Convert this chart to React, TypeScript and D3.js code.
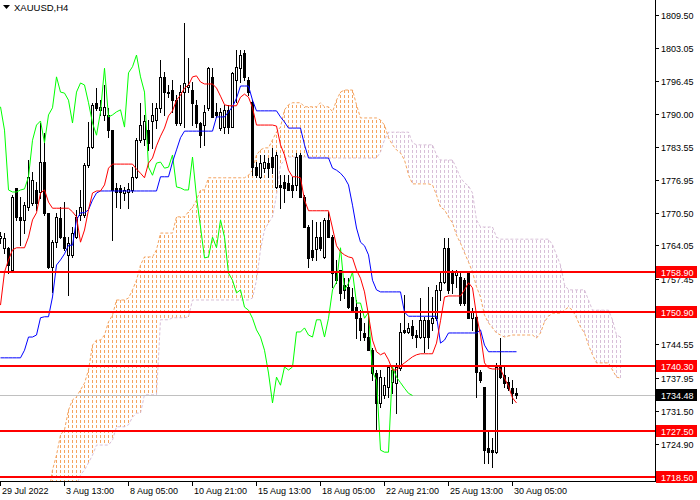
import React from 'react';
import * as d3 from 'd3';

const opens = [
1765.5,1763.6,1763.6,1759.2,1775.4,1769.7,1769.1,1771.6,1772.4,1775.0,
1774.6,1780.5,1770.5,1759.8,1764.7,1769.5,1765.7,1762.2,1762.2,1765.7,
1770.1,1770.1,1779.9,1783.5,1792.2,1790.8,1789.8,1789.8,1786.8,1775.4,
1775.4,1774.4,1774.6,1775.0,1777.6,1784.8,1785.0,1786.8,1788.6,1788.8,
1791.2,1797.3,1794.3,1794.7,1792.7,1788.2,1794.3,1795.3,1794.7,1791.8,
1788.2,1787.8,1791.2,1797.3,1790.4,1787.2,1787.4,1790.8,1787.4,1796.7,
1799.0,1802.0,1796.7,1792.3,1779.5,1777.6,1779.3,1780.3,1781.5,1775.6,
1776.0,1776.6,1776.4,1776.0,1776.0,1781.9,1773.6,1767.7,1763.2,1763.4,
1765.7,1761.8,1769.1,1765.7,1758.8,1759.2,1756.3,1755.9,1753.9,1751.9,
1749.7,1746.8,1746.0,1743.4,1738.9,1733.0,1734.6,1736.1,1737.1,1736.9,
1739.9,1747.4,1747.0,1748.2,1746.4,1746.0,1746.0,1749.4,1748.8,1749.7,
1755.3,1756.8,1763.6,1758.8,1758.2,1757.8,1757.2,1758.6,1749.7,1749.9,
1739.1,1736.1,1724.1,1723.7,1723.3,1740.1,1738.5,1737.1,1735.9,1734.9];

const highs = [
1766.7,1766.5,1763.8,1774.0,1775.4,1773.6,1772.6,1780.9,1778.5,1776.6,
1788.2,1786.2,1770.5,1765.1,1770.5,1771.6,1772.6,1765.7,1767.7,1771.0,
1775.0,1780.3,1788.4,1792.2,1795.1,1792.7,1795.7,1791.2,1786.8,1776.4,
1776.0,1775.6,1776.4,1779.5,1785.3,1792.2,1789.8,1788.8,1792.2,1792.2,
1800.6,1798.3,1795.7,1796.7,1793.7,1795.7,1807.9,1801.0,1796.3,1792.7,
1788.4,1791.8,1799.3,1799.0,1792.2,1791.2,1791.8,1791.8,1798.3,1802.6,
1802.6,1802.6,1797.3,1792.7,1780.5,1781.9,1781.9,1781.3,1783.3,1782.5,
1777.9,1777.9,1777.9,1777.6,1782.3,1782.3,1774.0,1768.1,1769.1,1768.7,
1768.7,1769.5,1770.7,1766.1,1761.2,1759.2,1757.6,1757.6,1755.7,1753.3,
1751.3,1748.8,1750.3,1743.8,1739.5,1739.5,1738.1,1740.5,1740.1,1740.9,
1748.8,1754.3,1748.8,1749.4,1747.4,1753.7,1749.9,1755.9,1753.9,1756.3,
1758.6,1765.5,1765.5,1759.2,1759.2,1758.8,1757.6,1758.8,1751.7,1750.3,
1739.5,1736.1,1727.7,1726.1,1740.9,1745.8,1740.1,1738.1,1737.5,1735.9];

const lows = [
1764.5,1762.6,1758.6,1758.8,1769.1,1764.2,1766.5,1771.0,1772.0,1771.0,
1773.4,1770.1,1759.6,1754.9,1763.8,1765.5,1763.2,1754.3,1761.8,1765.5,
1769.1,1769.7,1779.5,1783.3,1790.8,1789.8,1788.8,1785.4,1765.1,1771.6,
1771.4,1773.0,1771.4,1774.6,1777.4,1784.5,1783.9,1782.9,1783.3,1787.2,
1790.4,1789.8,1793.3,1790.4,1787.8,1787.8,1787.4,1794.3,1787.8,1787.4,
1783.5,1783.9,1790.8,1789.4,1789.4,1786.8,1786.2,1786.2,1787.4,1792.3,
1796.3,1796.7,1793.7,1777.9,1777.6,1777.4,1778.5,1777.6,1778.3,1775.4,
1771.4,1772.6,1775.0,1773.6,1775.0,1773.6,1767.7,1759.8,1761.2,1761.2,
1763.2,1761.6,1765.7,1755.9,1756.6,1753.3,1753.7,1751.7,1750.9,1745.8,
1745.4,1745.4,1743.4,1737.5,1727.7,1732.2,1734.0,1734.2,1734.9,1731.0,
1739.5,1746.8,1746.8,1745.8,1744.0,1745.8,1743.0,1743.8,1747.4,1749.4,
1753.3,1756.6,1754.7,1754.7,1755.9,1752.3,1752.3,1749.7,1747.4,1734.2,
1737.1,1721.1,1721.1,1720.4,1723.1,1737.9,1736.1,1735.5,1733.0,1734.0];

const closes = [
1765.9,1765.5,1760.2,1773.6,1769.7,1769.1,1772.0,1777.6,1777.0,1772.4,
1780.5,1770.5,1759.8,1764.7,1769.7,1765.7,1763.6,1764.5,1766.5,1769.7,
1771.6,1779.9,1783.5,1791.8,1791.2,1791.4,1791.4,1786.8,1775.0,1774.6,
1774.6,1775.0,1775.2,1777.6,1784.8,1787.8,1788.6,1784.3,1789.8,1791.2,
1797.3,1794.3,1794.1,1792.7,1788.2,1794.3,1796.1,1795.7,1792.2,1788.2,
1785.8,1790.4,1799.0,1789.4,1789.8,1790.4,1790.8,1787.4,1798.1,1799.3,
1801.6,1797.3,1794.3,1779.5,1777.9,1780.3,1780.5,1779.3,1779.5,1781.9,
1775.6,1775.4,1775.0,1775.0,1781.5,1773.6,1767.7,1761.6,1761.8,1765.7,
1763.6,1769.1,1765.7,1758.6,1757.2,1754.7,1755.3,1751.9,1751.3,1749.7,
1747.4,1746.0,1743.4,1738.9,1733.0,1738.1,1736.5,1740.1,1739.5,1740.1,
1747.0,1747.0,1747.8,1746.4,1746.0,1749.4,1749.4,1746.0,1749.7,1755.3,
1756.8,1763.6,1755.3,1756.6,1758.8,1752.7,1752.7,1749.7,1750.9,1739.1,
1737.5,1723.7,1723.3,1723.3,1740.1,1738.1,1737.0,1735.9,1734.9,1734.48];

const tenkan = [
1752.3,1758.8,1761.2,1763.2,1763.6,1763.6,1763.6,1765.7,1769.1,1770.5,
1774.4,1775.0,1772.6,1771.4,1771.4,1771.4,1771.4,1771.4,1770.7,1769.7,
1764.7,1767.1,1771.1,1774.4,1774.8,1774.8,1776.0,1779.3,1780.1,1780.1,
1780.1,1780.1,1780.1,1780.1,1779.1,1778.3,1777.4,1780.3,1781.3,1783.7,
1785.6,1787.2,1789.6,1790.6,1792.7,1793.7,1795.1,1795.7,1797.3,1797.5,
1796.3,1795.9,1795.9,1795.9,1795.1,1793.5,1791.8,1791.6,1791.6,1791.6,
1793.3,1793.9,1793.3,1791.2,1787.8,1787.8,1787.8,1787.8,1787.8,1787.6,
1783.9,1781.9,1778.9,1777.6,1777.6,1777.4,1773.0,1770.9,1770.9,1770.9,
1770.9,1770.9,1770.9,1767.5,1764.0,1762.8,1762.2,1761.8,1761.6,1759.2,
1757.6,1754.9,1750.3,1745.4,1743.1,1742.5,1742.9,1741.5,1739.5,1739.5,
1740.3,1740.9,1741.5,1742.1,1742.5,1742.7,1742.7,1742.7,1742.7,1744.8,
1749.2,1753.9,1754.1,1754.1,1754.1,1754.1,1755.3,1756.7,1755.7,1750.3,
1746.4,1740.9,1739.9,1739.7,1739.7,1739.7,1737.9,1736.3,1734.0,1733.0];

const kijun = [
1741.9,1741.9,1741.9,1741.9,1741.9,1741.9,1743.4,1746.0,1746.0,1746.4,
1749.8,1750.0,1750.0,1753.9,1760.2,1761.2,1762.4,1764.1,1764.1,1769.1,
1770.5,1770.5,1771.1,1773.0,1774.4,1774.8,1774.8,1774.8,1774.8,1774.8,
1774.8,1774.8,1774.8,1774.8,1774.8,1774.8,1774.8,1774.8,1774.8,1774.8,
1777.6,1777.6,1777.6,1780.5,1782.9,1785.3,1786.6,1786.6,1786.6,1786.6,
1786.6,1786.6,1786.6,1786.6,1789.4,1789.4,1789.4,1790.4,1791.4,1793.1,
1795.5,1795.5,1795.5,1792.7,1790.6,1790.6,1790.6,1790.6,1790.6,1790.6,
1789.4,1788.4,1787.2,1787.2,1787.2,1787.2,1783.9,1781.3,1781.3,1781.3,
1781.3,1781.3,1781.3,1779.3,1778.9,1778.3,1777.4,1776.0,1772.0,1767.5,
1764.7,1764.0,1762.2,1757.2,1755.3,1754.9,1754.9,1754.9,1754.9,1754.9,
1754.9,1750.9,1750.1,1750.1,1750.1,1750.1,1750.1,1750.1,1750.1,1750.1,
1744.8,1745.4,1746.8,1746.8,1746.8,1746.8,1746.8,1746.8,1746.8,1746.8,
1747.4,1744.4,1743.1,1743.1,1743.1,1743.1,1743.1,1743.1,1743.1,1743.1];

const senkouA = [
1715.0,1715.0,1715.0,1715.0,1715.0,1715.0,1715.0,1715.0,1715.0,1715.0,
1715.0,1715.0,1715.0,1719.8,1722.7,1726.7,1727.7,1731.6,1733.6,1734.2,
1735.6,1736.9,1739.5,1744.4,1745.4,1745.4,1746.4,1749.0,1750.3,1753.3,
1753.3,1753.3,1753.7,1755.3,1757.2,1760.2,1761.8,1761.8,1761.8,1763.2,
1766.5,1766.5,1766.5,1766.5,1769.7,1769.7,1769.7,1770.7,1771.6,1773.0,
1775.0,1775.0,1777.4,1777.4,1777.4,1777.4,1777.4,1777.4,1777.4,1777.4,
1777.4,1777.4,1777.9,1778.9,1781.9,1782.9,1783.3,1783.3,1784.9,1786.4,
1787.4,1790.8,1791.8,1792.2,1792.2,1792.2,1791.4,1791.4,1791.4,1791.4,
1792.2,1791.4,1791.4,1790.4,1792.7,1794.3,1794.7,1794.7,1794.7,1791.8,
1789.2,1789.2,1789.2,1789.2,1789.2,1788.8,1787.8,1785.3,1783.9,1782.9,
1782.3,1780.9,1778.0,1776.2,1776.2,1776.2,1776.2,1776.2,1776.0,1774.0,
1771.6,1771.1,1769.7,1768.5,1766.1,1764.5,1762.6,1760.8,1758.8,1755.9,
1753.9,1750.3,1748.8,1747.8,1746.8,1746.4,1746.0,1746.2,1746.4,1746.4,
1746.4,1746.4,1746.4,1746.4,1745.8,1746.8,1749.0,1750.1,1750.7,1750.7,
1750.7,1751.3,1751.9,1751.3,1749.8,1748.0,1746.8,1744.4,1742.5,1740.9,
1740.9,1740.9,1740.9,1739.5,1738.1,1737.9];

const senkouB = [
1712.0,1712.0,1712.0,1712.0,1712.0,1712.0,1712.0,1712.0,1712.0,1712.0,
1712.0,1712.0,1712.0,1714.9,1714.9,1714.9,1714.9,1714.9,1715.8,1716.8,
1718.8,1719.8,1721.2,1722.7,1724.7,1724.7,1724.7,1724.7,1725.7,1728.3,
1728.3,1728.3,1728.7,1730.2,1731.0,1731.0,1734.6,1734.6,1734.6,1734.6,
1749.4,1749.4,1749.4,1749.8,1749.8,1749.8,1749.8,1750.0,1753.3,1753.3,
1753.3,1753.3,1753.3,1753.3,1753.3,1753.3,1753.3,1753.3,1753.3,1753.3,
1753.3,1753.3,1753.3,1753.7,1757.2,1763.2,1767.1,1768.5,1769.7,1774.0,
1779.9,1780.9,1781.5,1781.5,1781.5,1781.5,1781.5,1781.5,1781.5,1781.5,
1781.5,1781.5,1781.3,1781.3,1781.3,1781.3,1781.3,1781.3,1781.3,1781.3,
1781.3,1781.3,1781.3,1781.3,1781.3,1782.5,1784.9,1786.4,1786.4,1786.4,
1786.4,1786.4,1786.4,1784.3,1783.9,1783.9,1783.9,1783.9,1783.9,1781.9,
1780.9,1780.9,1780.9,1780.9,1779.3,1777.4,1776.4,1775.8,1774.4,1769.1,
1767.7,1767.7,1767.7,1767.7,1765.7,1765.3,1765.3,1765.3,1765.3,1765.3,
1765.3,1765.3,1765.3,1765.3,1765.3,1765.3,1765.3,1765.3,1764.2,1762.2,
1760.2,1756.3,1755.3,1755.3,1755.3,1755.3,1755.3,1753.3,1751.3,1751.3,
1751.3,1751.3,1751.3,1749.4,1746.4,1746.0];

const CHIKOU_SHIFT = 26;
const levels = [1758.90, 1750.90, 1740.30, 1727.50, 1718.50];
const currentPrice = 1734.48;
const priceTicks = [1809.50, 1803.05, 1796.45, 1790.00, 1783.55, 1776.95, 1770.50, 1764.05, 1757.45, 1744.55, 1737.95, 1731.50, 1724.90];
const timeLabels = ['29 Jul 2022', '3 Aug 13:00', '8 Aug 05:00', '10 Aug 21:00', '15 Aug 13:00', '18 Aug 05:00', '22 Aug 21:00', '25 Aug 13:00', '30 Aug 05:00'];
const timeLabelBars = [0, 16, 32, 48, 64, 80, 96, 112, 128];
const title = 'XAUUSD,H4';

const SANDY = '#F4A460';
const THISTLE = '#D8BFD8';
const FONT = '"Liberation Sans", Arial, sans-serif';

export default function App() {
  const W = 700, H = 500;
  const plotR = 655, plotB = 481;
  const x = d3.scaleLinear().domain([0, 1]).range([0, 4]);
  const y = d3.scaleLinear().domain([1809.5, 1718.5]).range([15, 476.5]);
  const px = (i: number) => Math.round(x(i)) + 0.5;

  const lineGen = d3.line<number>().x((_, i) => px(i)).y((d) => y(d));
  const chikou = closes.slice(CHIKOU_SHIFT);

  const cloudBars = senkouA.map((a, i) => {
    const b = senkouB[i];
    const y1 = Math.round(y(Math.max(a, b)));
    const y2 = Math.round(y(Math.min(a, b)));
    return { i, y1, y2, color: a >= b ? SANDY : THISTLE };
  });

  return (
    <svg width={W} height={H} style={{ position: 'absolute', left: 0, top: 0, background: '#fff' }}>
      <defs>
        <clipPath id="plot">
          <rect x={0} y={0} width={plotR} height={plotB} />
        </clipPath>
      </defs>
      <rect x={0} y={0} width={W} height={H} fill="#fff" />
      <g clipPath="url(#plot)">
        {/* cloud hatching */}
        {cloudBars.map((c) => (
          <line key={'c' + c.i} x1={px(c.i)} x2={px(c.i)} y1={c.y1} y2={c.y2}
            stroke={c.color} strokeWidth={1} strokeDasharray="3,2"
            strokeDashoffset={((c.y1 % 5) + 5) % 5} shapeRendering="crispEdges" />
        ))}
        <path d={lineGen(senkouB) || ''} fill="none" stroke={THISTLE} strokeWidth={1} strokeDasharray="3,2" />
        <path d={lineGen(senkouA) || ''} fill="none" stroke={SANDY} strokeWidth={1} strokeDasharray="3,2" />

        {/* current price line */}
        <line x1={0} x2={plotR} y1={Math.round(y(currentPrice)) + 0.5} y2={Math.round(y(currentPrice)) + 0.5}
          stroke="#C0C0C0" strokeWidth={1} shapeRendering="crispEdges" />

        {/* candles */}
        {opens.map((o, i) => {
          const c = closes[i];
          const cx = Math.round(x(i));
          const top = Math.round(y(Math.max(o, c)));
          const bot = Math.round(y(Math.min(o, c)));
          const bull = c >= o;
          return (
            <g key={'k' + i} shapeRendering="crispEdges">
              <line x1={cx + 0.5} x2={cx + 0.5} y1={Math.round(y(highs[i]))} y2={Math.round(y(lows[i])) + 1} stroke="#000" strokeWidth={1} />
              <rect x={cx - 0.5} y={top + 0.5} width={2} height={Math.max(0, bot - top)}
                fill={bull ? '#fff' : '#000'} stroke="#000" strokeWidth={1} />
            </g>
          );
        })}

        {/* indicator lines */}
        <path d={lineGen(chikou) || ''} fill="none" stroke="#00FF00" strokeWidth={1} />
        <path d={lineGen(kijun) || ''} fill="none" stroke="#0000FF" strokeWidth={1} />
        <path d={lineGen(tenkan) || ''} fill="none" stroke="#FF0000" strokeWidth={1} />

        {/* horizontal levels */}
        {levels.map((lv) => (
          <rect key={'l' + lv} x={0} y={Math.round(y(lv)) - 1} width={plotR} height={2} fill="#FF0000" shapeRendering="crispEdges" />
        ))}
      </g>

      {/* title */}
      <path d="M3,5 L10,5 L6.5,9 Z" fill="#000" />
      <text x={14} y={11} fontFamily={FONT} fontSize={9.5} fill="#000">{title}</text>

      {/* frame */}
      <line x1={plotR + 0.5} x2={plotR + 0.5} y1={0} y2={plotB + 1} stroke="#000" strokeWidth={1} shapeRendering="crispEdges" />
      <line x1={0} x2={plotR + 1} y1={plotB + 0.5} y2={plotB + 0.5} stroke="#000" strokeWidth={1} shapeRendering="crispEdges" />

      {/* price axis */}
      {priceTicks.map((p) => {
        const yy = Math.round(y(p));
        return (
          <g key={'t' + p}>
            <line x1={plotR} x2={plotR + 4} y1={yy + 0.5} y2={yy + 0.5} stroke="#000" shapeRendering="crispEdges" />
            <text x={661} y={yy + 3.5} fontFamily={FONT} fontSize={9} fill="#000">{p.toFixed(2)}</text>
          </g>
        );
      })}

      {/* level labels */}
      {levels.map((lv) => {
        const yy = Math.round(y(lv));
        return (
          <g key={'ll' + lv}>
            <rect x={656} y={yy - 6} width={41} height={12} fill="#FF0000" />
            <text x={661} y={yy + 3.5} fontFamily={FONT} fontSize={9} fill="#fff">{lv.toFixed(2)}</text>
          </g>
        );
      })}
      {(() => {
        const yy = Math.round(y(currentPrice));
        return (
          <g>
            <rect x={656} y={yy - 6} width={41} height={12} fill="#000" />
            <text x={661} y={yy + 3.5} fontFamily={FONT} fontSize={9} fill="#fff">{currentPrice.toFixed(2)}</text>
          </g>
        );
      })()}

      {/* time axis */}
      {timeLabels.map((t, k) => {
        const tx = Math.round(x(timeLabelBars[k]));
        return (
          <g key={'tl' + k}>
            <line x1={tx + 0.5} x2={tx + 0.5} y1={plotB} y2={plotB + 5} stroke="#000" shapeRendering="crispEdges" />
            <text x={tx + 2} y={494} fontFamily={FONT} fontSize={9} fill="#000">{t}</text>
          </g>
        );
      })}
    </svg>
  );
}
